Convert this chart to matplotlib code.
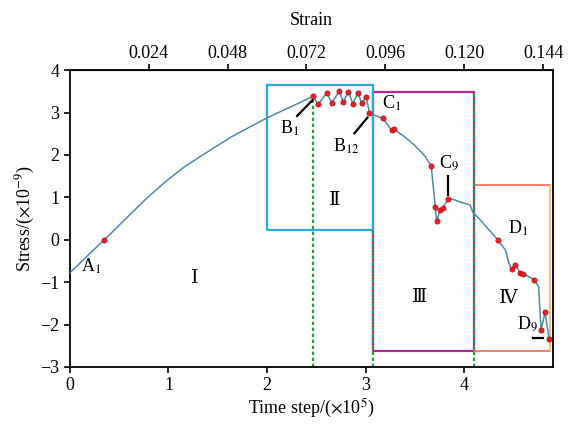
"""
Stress vs time step curve with the four stages (I-IV) and marked events
"""
import numpy as np
import matplotlib.pyplot as plt

# smooth parts of the curve (time step in 1e5, stress in 1e-9)
path_t = [0.0, 0.15, 0.55, 0.78, 0.964, 1.15, 1.34, 1.64, 1.98, 2.115, 2.32,
          3.10, 3.40, 3.50, 3.60,
          3.89, 3.96, 4.06, 4.085, 4.15, 4.42, 4.45, 4.755, 4.88]
path_s = [-0.78, -0.44, 0.46, 0.98, 1.36, 1.70, 1.99, 2.43, 2.85, 3.00, 3.22,
          2.93, 2.42, 2.22, 1.98,
          0.95, 0.89, 0.82, 0.66, 0.50, -0.25, -0.52, -1.11, -2.36]

# marked events
a_t = [0.35]
a_s = [0.0]
b_t = [2.47, 2.515, 2.606, 2.657, 2.731, 2.775, 2.825, 2.870, 2.921, 2.961, 3.005, 3.039]
b_s = [3.39, 3.19, 3.46, 3.23, 3.50, 3.25, 3.49, 3.21, 3.46, 3.23, 3.37, 2.99]
c_t = [3.175, 3.266, 3.29, 3.665, 3.706, 3.72, 3.756, 3.78, 3.84]
c_s = [2.86, 2.58, 2.60, 1.74, 0.78, 0.44, 0.71, 0.74, 0.97]
d_t = [4.34, 4.48, 4.52, 4.57, 4.60, 4.71, 4.78, 4.82, 4.86]
d_s = [0.0, -0.70, -0.60, -0.78, -0.80, -0.94, -2.13, -1.70, -2.33]

# stage boxes (t0, t1, s0, s1)
box_ii = (2.0, 3.07, 0.23, 3.65)
box_iii = (3.07, 4.10, -2.63, 3.49)
box_iv = (4.10, 4.87, -2.63, 1.30)
stage_lines = [2.47, 3.07, 4.10]

plt.rcParams['font.family'] = ['Liberation Serif', 'DejaVu Serif']
plt.rcParams['mathtext.fontset'] = 'stix'

fig = plt.figure(figsize=(5.73, 4.25), dpi=100)
ax = fig.add_axes([0.122, 0.1365, 0.843, 0.6985])

# line through all points in time order
all_t = np.array(path_t + a_t + b_t + c_t + d_t)
all_s = np.array(path_s + a_s + b_s + c_s + d_s)
order = np.argsort(all_t)
ax.plot(all_t[order], all_s[order], color='#4f8aa3', lw=1.1, zorder=3)

mark_t = a_t + b_t + c_t + d_t
mark_s = a_s + b_s + c_s + d_s
ax.scatter(mark_t, mark_s, s=14, color='#e3202b', edgecolor='#b01018',
           linewidth=0.5, zorder=4)

# boxes
t0, t1, s0, s1 = box_iii
ax.plot([t0, t1, t1, t0, t0], [s1, s1, s0, s0, s1], color='#b5268e', lw=1.6, zorder=1)
t0, t1, s0, s1 = box_iv
ax.plot([t0, t1], [s1, s1], color='#f26a4b', lw=1.2, zorder=1)
ax.plot([t0, t1], [s0, s0], color='#f26a4b', lw=1.2, zorder=1)
ax.plot([t1, t1], [s0, s1], color='#f4b05a', lw=1.2, zorder=1)
t0, t1, s0, s1 = box_ii
ax.plot([t0, t1, t1, t0, t0], [s1, s1, s0, s0, s1], color='#2aa7de', lw=1.6, zorder=2)

# stage boundaries
ax.plot([stage_lines[0], stage_lines[0]], [-3, b_s[0]], color='#1fa33a', lw=1.6,
        ls=(0, (1.5, 1.2)), zorder=2)
ax.plot([stage_lines[1], stage_lines[1]], [-3, box_ii[2]], color='#1fa33a', lw=1.6,
        ls=(0, (1.5, 1.2)), zorder=2)
ax.plot([stage_lines[2], stage_lines[2]], [-3, box_iii[3]], color='#1fa33a', lw=1.6,
        ls=(0, (1.5, 1.2)), zorder=2)

# labels
fs = 13
ax.text(0.22, -0.62, r'A$_1$', fontsize=fs, ha='center', va='center')
ax.text(2.23, 2.63, r'B$_1$', fontsize=fs, ha='center', va='center')
ax.text(2.80, 2.20, r'B$_{12}$', fontsize=fs, ha='center', va='center')
ax.text(3.26, 3.22, r'C$_1$', fontsize=fs, ha='center', va='center')
ax.text(3.85, 1.82, r'C$_9$', fontsize=fs, ha='center', va='center')
ax.text(4.55, 0.26, r'D$_1$', fontsize=fs, ha='center', va='center')
ax.text(4.64, -1.97, r'D$_9$', fontsize=fs, ha='center', va='center')
ax.plot([2.305, 2.46], [2.92, 3.29], color='black', lw=1.6, zorder=5)
ax.plot([2.886, 3.018], [2.51, 2.88], color='black', lw=1.6, zorder=5)
ax.plot([3.84, 3.84], [1.50, 1.05], color='black', lw=1.6, zorder=5)
ax.plot([4.70, 4.80], [-2.31, -2.31], color='black', lw=1.6, zorder=5)

ax.text(1.27, -0.92, 'Ⅰ', fontsize=14, ha='center', va='center')
ax.text(2.69, 0.93, 'Ⅱ', fontsize=14, ha='center', va='center')
ax.text(3.55, -1.35, 'Ⅲ', fontsize=14, ha='center', va='center')
ax.text(4.45, -1.38, 'Ⅳ', fontsize=14, ha='center', va='center')

ax.set_xlim(0, 4.9)
ax.set_ylim(-3, 4)
ax.set_xticks([0, 1, 2, 3, 4])
ax.set_yticks(range(-3, 5))
ax.tick_params(direction='out', labelsize=13, length=4, width=1.2)
for sp in ax.spines.values():
    sp.set_linewidth(1.3)
ax.set_xlabel(r'Time step/($\times$10$^5$)', fontsize=13, labelpad=2)
ax.set_ylabel(r'Stress/($\times$10$^{-9}$)', fontsize=13, labelpad=2)

top = ax.secondary_xaxis('top', functions=(lambda t: 0.03 * t, lambda e: e / 0.03))
top.set_xticks([0.024, 0.048, 0.072, 0.096, 0.120, 0.144])
top.set_xticklabels(['0.024', '0.048', '0.072', '0.096', '0.120', '0.144'])
top.tick_params(direction='out', labelsize=13, length=4, width=1.2, pad=2)
top.set_xlabel('Strain', fontsize=13, labelpad=14)

fig.savefig('out.png', dpi=100)
